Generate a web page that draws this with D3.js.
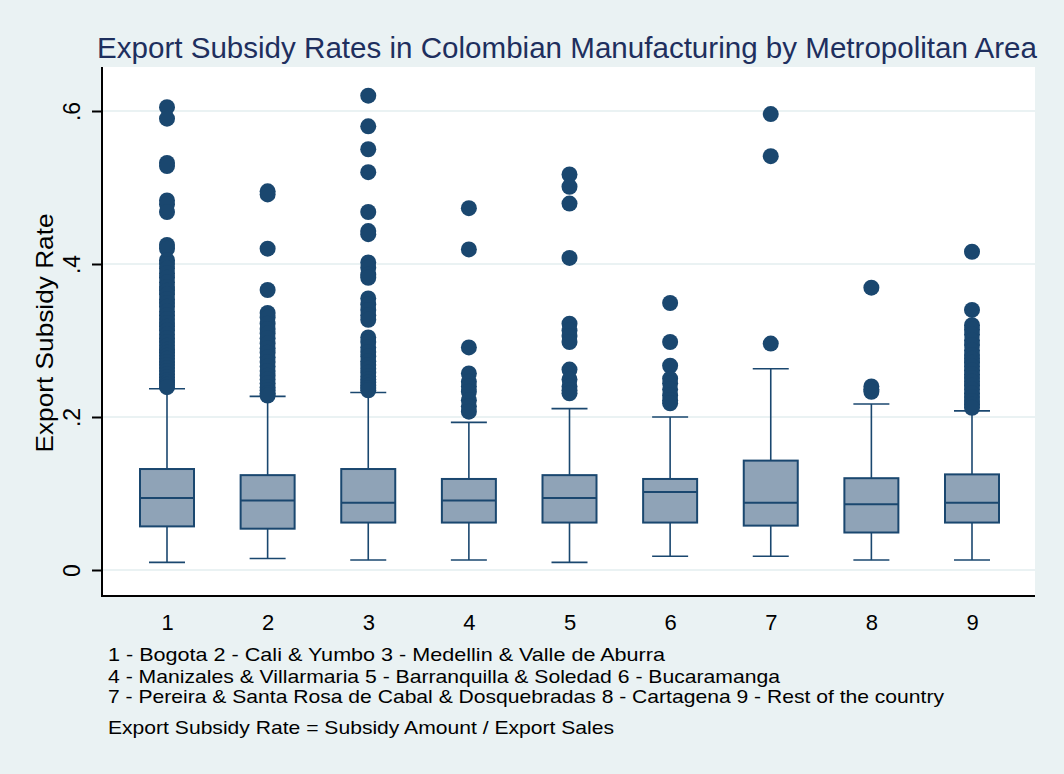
<!DOCTYPE html>
<html>
<head>
<meta charset="utf-8">
<script src="https://cdn.jsdelivr.net/npm/d3@7"></script>
<style>
  body { margin: 0; background: #eaf2f3; }
  text { font-family: "Liberation Sans", Arial, sans-serif; }
</style>
</head>
<body>
<script>
// categories (metropolitan areas, coded 1..9)
var categories = ["1", "2", "3", "4", "5", "6", "7", "8", "9"];

// box statistics
var whiskerLo = [0.010, 0.015, 0.013, 0.013, 0.010, 0.018, 0.018, 0.013, 0.013];
var q1        = [0.057, 0.054, 0.062, 0.062, 0.062, 0.062, 0.058, 0.049, 0.062];
var medians   = [0.094, 0.091, 0.088, 0.091, 0.094, 0.102, 0.088, 0.086, 0.088];
var q3        = [0.132, 0.124, 0.132, 0.119, 0.124, 0.119, 0.143, 0.120, 0.125];
var whiskerHi = [0.237, 0.227, 0.232, 0.193, 0.211, 0.200, 0.263, 0.217, 0.208];

// outside values
var outliers1 = [0.605, 0.590, 0.532, 0.528, 0.483, 0.478, 0.468, 0.425, 0.420, 0.405, 0.400, 0.394,
  0.388, 0.382, 0.376, 0.370, 0.365, 0.360, 0.354, 0.349, 0.344, 0.338, 0.333, 0.328, 0.323, 0.318,
  0.313, 0.308, 0.303, 0.298, 0.293, 0.288, 0.284, 0.280, 0.276, 0.272, 0.268, 0.264, 0.260, 0.256,
  0.252, 0.248, 0.245, 0.242, 0.239];
var outliers2 = [0.495, 0.491, 0.420, 0.366, 0.336, 0.330, 0.322, 0.315, 0.309, 0.303, 0.296, 0.290,
  0.284, 0.278, 0.272, 0.266, 0.260, 0.254, 0.249, 0.244, 0.239, 0.235, 0.231, 0.228];
var outliers3 = [0.620, 0.580, 0.550, 0.520, 0.468, 0.443, 0.439, 0.402, 0.395, 0.386, 0.382, 0.355,
  0.347, 0.340, 0.333, 0.327, 0.304, 0.298, 0.291, 0.285, 0.279, 0.273, 0.268, 0.263, 0.258, 0.253,
  0.249, 0.245, 0.241, 0.238, 0.235];
var outliers4 = [0.473, 0.419, 0.291, 0.257, 0.246, 0.240, 0.233, 0.222, 0.214, 0.207];
var outliers5 = [0.517, 0.501, 0.479, 0.408, 0.322, 0.313, 0.306, 0.298, 0.262, 0.249, 0.240, 0.235, 0.231];
var outliers6 = [0.349, 0.298, 0.267, 0.250, 0.244, 0.236, 0.228, 0.222, 0.218];
var outliers7 = [0.596, 0.541, 0.296];
var outliers8 = [0.369, 0.240, 0.236, 0.233];
var outliers9 = [0.416, 0.340, 0.320, 0.314, 0.308, 0.300, 0.294, 0.287, 0.281, 0.276, 0.271, 0.266,
  0.261, 0.256, 0.251, 0.246, 0.241, 0.236, 0.231, 0.226, 0.221, 0.216, 0.212];
var outliers = [outliers1, outliers2, outliers3, outliers4, outliers5, outliers6, outliers7, outliers8, outliers9];

var yTicks = [0, 0.2, 0.4, 0.6];
var yTickLabels = ["0", ".2", ".4", ".6"];

var title = "Export Subsidy Rates in Colombian Manufacturing by Metropolitan Area";
var yTitle = "Export Subsidy Rate";
var notes = [
  "1 - Bogota 2 - Cali & Yumbo 3 - Medellin &  Valle de Aburra",
  "4 - Manizales & Villarmaria 5 - Barranquilla & Soledad 6 - Bucaramanga",
  "7 - Pereira & Santa Rosa de Cabal & Dosquebradas 8 - Cartagena 9 - Rest of the country",
  "Export Subsidy Rate = Subsidy Amount / Export Sales"
];

var width = 1064,
    height = 774;

var navy = "#1a476f",
    boxFill = "#8fa3b7",
    bg = "#eaf2f3";

var plot = {left: 102, right: 1035, top: 67, bottom: 596};

var svg = d3.select("body").append("svg")
    .attr("width", width)
    .attr("height", height)
    .style("display", "block");

svg.append("rect")
    .attr("width", width)
    .attr("height", height)
    .attr("fill", bg);

var x = d3.scalePoint()
    .domain(categories)
    .range([167, 972]);

var y = d3.scaleLinear()
    .domain([0, 0.6])
    .range([570, 111]);

// plot region
svg.append("rect")
    .attr("x", plot.left)
    .attr("y", plot.top)
    .attr("width", plot.right - plot.left)
    .attr("height", plot.bottom - plot.top)
    .attr("fill", "#fff");

// gridlines
svg.selectAll(".grid")
    .data(yTicks)
  .enter().append("line")
    .attr("class", "grid")
    .attr("x1", plot.left)
    .attr("x2", plot.right)
    .attr("y1", function(d) { return y(d); })
    .attr("y2", function(d) { return y(d); })
    .attr("stroke", bg)
    .attr("stroke-width", 2);

var groups = svg.selectAll(".box")
    .data(categories)
  .enter().append("g")
    .attr("class", "box")
    .attr("transform", function(d) { return "translate(" + x(d) + ",0)"; });

var boxW = 54, capW = 36;

// whiskers
groups.append("line")
    .attr("y1", function(d, i) { return y(whiskerLo[i]); })
    .attr("y2", function(d, i) { return y(q1[i]); })
    .attr("stroke", navy).attr("stroke-width", 1.6);
groups.append("line")
    .attr("y1", function(d, i) { return y(q3[i]); })
    .attr("y2", function(d, i) { return y(whiskerHi[i]); })
    .attr("stroke", navy).attr("stroke-width", 1.6);
groups.append("line")
    .attr("x1", -capW / 2).attr("x2", capW / 2)
    .attr("y1", function(d, i) { return y(whiskerLo[i]); })
    .attr("y2", function(d, i) { return y(whiskerLo[i]); })
    .attr("stroke", navy).attr("stroke-width", 1.6);
groups.append("line")
    .attr("x1", -capW / 2).attr("x2", capW / 2)
    .attr("y1", function(d, i) { return y(whiskerHi[i]); })
    .attr("y2", function(d, i) { return y(whiskerHi[i]); })
    .attr("stroke", navy).attr("stroke-width", 1.6);

// boxes
groups.append("rect")
    .attr("x", -boxW / 2)
    .attr("width", boxW)
    .attr("y", function(d, i) { return y(q3[i]); })
    .attr("height", function(d, i) { return y(q1[i]) - y(q3[i]); })
    .attr("fill", boxFill)
    .attr("stroke", navy)
    .attr("stroke-width", 2);
groups.append("line")
    .attr("x1", -boxW / 2).attr("x2", boxW / 2)
    .attr("y1", function(d, i) { return y(medians[i]); })
    .attr("y2", function(d, i) { return y(medians[i]); })
    .attr("stroke", navy).attr("stroke-width", 2);

// outside values
groups.selectAll("circle")
    .data(function(d, i) { return outliers[i]; })
  .enter().append("circle")
    .attr("cx", 0)
    .attr("cy", function(d) { return y(d); })
    .attr("r", 8)
    .attr("fill", navy);

// axes
svg.append("line")
    .attr("x1", plot.left).attr("x2", plot.left)
    .attr("y1", plot.top).attr("y2", plot.bottom)
    .attr("stroke", "#000").attr("stroke-width", 2);
svg.append("line")
    .attr("x1", plot.left - 1).attr("x2", plot.right)
    .attr("y1", plot.bottom).attr("y2", plot.bottom)
    .attr("stroke", "#000").attr("stroke-width", 2);

var yAxis = svg.append("g")
    .attr("transform", "translate(" + plot.left + ",0)")
    .call(d3.axisLeft(y)
      .tickValues(yTicks)
      .tickSize(10)
      .tickPadding(0)
      .tickFormat(function(d, i) { return yTickLabels[i]; }));
yAxis.select(".domain").remove();
yAxis.selectAll(".tick line").attr("stroke", "#000").attr("stroke-width", 2);
yAxis.selectAll(".tick text")
    .attr("x", null).attr("dy", null)
    .attr("transform", "translate(-22,0) rotate(-90)")
    .attr("text-anchor", "middle")
    .attr("fill", "#000")
    .style("font-size", "23px");

var xAxis = svg.append("g")
    .attr("transform", "translate(0," + plot.bottom + ")")
    .call(d3.axisBottom(x).tickSize(0).tickPadding(0));
xAxis.select(".domain").remove();
xAxis.selectAll(".tick text")
    .attr("y", 34).attr("dy", null)
    .attr("fill", "#000")
    .style("font-size", "22px");

// y axis title
svg.append("text")
    .attr("transform", "translate(53,333) rotate(-90)")
    .attr("text-anchor", "middle")
    .attr("textLength", 239)
    .attr("lengthAdjust", "spacingAndGlyphs")
    .style("font-size", "24px")
    .attr("fill", "#000")
    .text(yTitle);

// title
svg.append("text")
    .attr("x", 97)
    .attr("y", 58)
    .attr("textLength", 940)
    .attr("lengthAdjust", "spacingAndGlyphs")
    .style("font-size", "30px")
    .attr("fill", "#1e2f5e")
    .text(title);

// notes
var noteY = [661, 683, 703, 734];
var noteW = [557, 672, 836, 506];
svg.selectAll(".note")
    .data(notes)
  .enter().append("text")
    .attr("class", "note")
    .attr("x", 108)
    .attr("y", function(d, i) { return noteY[i]; })
    .attr("textLength", function(d, i) { return noteW[i]; })
    .attr("lengthAdjust", "spacingAndGlyphs")
    .style("font-size", "19px")
    .attr("fill", "#000")
    .text(function(d) { return d; });
</script>
</body>
</html>
